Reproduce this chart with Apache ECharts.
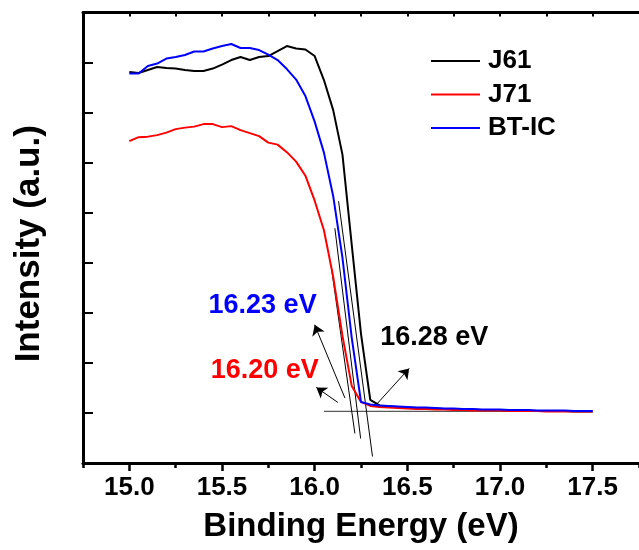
<!DOCTYPE html>
<html>
<head>
<meta charset="utf-8">
<script src="https://cdn.jsdelivr.net/npm/echarts@6/dist/echarts.min.js"></script>
<style>
  html, body { margin: 0; padding: 0; background: #fff; }
  #chart { width: 639px; height: 550px; }
</style>
</head>
<body>
<div id="chart"></div>
<script>
// UPS secondary-electron cutoff spectra (binding energy, eV)
const energies = [
  15.00, 15.05, 15.10, 15.15, 15.20, 15.25, 15.30, 15.35, 15.40, 15.45,
  15.50, 15.55, 15.60, 15.65, 15.70, 15.75, 15.80, 15.85, 15.90, 15.95,
  16.00, 16.05, 16.10, 16.15, 16.20, 16.25, 16.30, 16.35, 16.40, 16.45,
  16.50, 16.55, 16.60, 16.65, 16.70, 16.75, 16.80, 16.85, 16.90, 16.95,
  17.00, 17.05, 17.10, 17.15, 17.20, 17.25, 17.30, 17.35, 17.40, 17.45,
  17.50
];

const J61 = [
  7.81, 7.79, 7.85, 7.91, 7.89, 7.88, 7.85, 7.83, 7.83, 7.88,
  7.96, 8.05, 8.11, 8.05, 8.11, 8.13, 8.23, 8.33, 8.28, 8.26,
  8.13, 7.65, 7.05, 6.16, 4.36, 2.58, 1.26, 1.15, 1.13, 1.12,
  1.11, 1.10, 1.10, 1.09, 1.08, 1.08, 1.07, 1.07, 1.06, 1.06,
  1.06, 1.05, 1.05, 1.05, 1.04, 1.04, 1.04, 1.04, 1.03, 1.03,
  1.03
];

const J71 = [
  6.43, 6.51, 6.52, 6.55, 6.60, 6.67, 6.70, 6.72, 6.77, 6.77,
  6.71, 6.73, 6.65, 6.59, 6.53, 6.40, 6.36, 6.21, 6.02, 5.74,
  5.24, 4.65, 3.72, 2.54, 1.54, 1.22, 1.14, 1.12, 1.11, 1.10,
  1.09, 1.08, 1.08, 1.07, 1.07, 1.06, 1.06, 1.05, 1.05, 1.05,
  1.05, 1.04, 1.04, 1.04, 1.04, 1.03, 1.03, 1.03, 1.03, 1.03,
  1.03
];

const BTIC = [
  7.78, 7.78, 7.93, 7.98, 8.08, 8.11, 8.15, 8.22, 8.22, 8.28,
  8.33, 8.37, 8.29, 8.29, 8.25, 8.16, 8.05, 7.87, 7.66, 7.33,
  6.82, 6.20, 5.33, 4.10, 2.50, 1.22, 1.17, 1.15, 1.14, 1.13,
  1.12, 1.11, 1.11, 1.10, 1.09, 1.09, 1.08, 1.08, 1.07, 1.07,
  1.07, 1.06, 1.06, 1.06, 1.05, 1.05, 1.05, 1.05, 1.04, 1.04,
  1.04
];

const seriesNames = ['J61', 'J71', 'BT-IC'];

// cutoff onsets (eV) and their labels
const onsetLabels = ['16.28 eV', '16.20 eV', '16.23 eV'];

// linear extrapolation of the cutoff edges down to the background level
const baseline = [[16.05, 1.03], [17.5, 1.03]];
const tangentJ61 = [[16.129, 5.23], [16.312, 0.13]];
const tangentJ71 = [[16.088, 3.96], [16.217, 0.59]];
const tangentBTIC = [[16.109, 4.69], [16.248, 0.49]];

// arrows from the intersections to the onset labels: [from, to]
const arrowJ61 = [[16.331, 1.16], [16.51, 1.89]];
const arrowJ71 = [[16.125, 1.21], [16.009, 1.51]];
const arrowBTIC = [[16.163, 1.30], [16.0, 2.76]];

// label anchor points (centre of each text)
const labelPosJ61 = [16.645, 2.50];
const labelPosJ71 = [15.731, 1.84];
const labelPosBTIC = [15.719, 3.14];

// axis ticks
const majorTicks = [15.0, 15.5, 16.0, 16.5, 17.0, 17.5];
const minorTicks = [14.75, 15.25, 15.75, 16.25, 16.75, 17.25, 17.75];
const quarterTicks = [15.0, 15.25, 15.5, 15.75, 16.0, 16.25, 16.5, 16.75, 17.0, 17.25, 17.5];

const FONT = "'Liberation Sans', Arial, Helvetica, sans-serif";
const X_MIN = 14.75, X_MAX = 17.75;

const pair = (ys) => energies.map((e, i) => [e, ys[i]]);

const chart = echarts.init(document.getElementById('chart'), null, { renderer: 'canvas' });

const thinLine = (name, data, color, width, z) => ({
  name: name,
  type: 'line',
  data: data,
  symbol: 'none',
  silent: true,
  z: z,
  lineStyle: { color: color, width: width },
  itemStyle: { color: color }
});

const mainLine = (name, ys, color) => ({
  name: name,
  type: 'line',
  data: pair(ys),
  symbol: 'none',
  z: 5,
  lineStyle: { color: color, width: 2 },
  itemStyle: { color: color }
});

const arrowItem = (a) => [{ coord: a[0] }, { coord: a[1] }];
const labelItem = (pos, text, color) => ({
  coord: pos,
  value: text,
  label: { color: color }
});

const option = {
  animation: false,
  backgroundColor: '#ffffff',
  grid: { left: 83, top: 12.5, right: -5, bottom: 87 },
  legend: {
    data: seriesNames,
    orient: 'vertical',
    left: 431,
    top: 48,
    padding: 0,
    icon: 'rect',
    itemWidth: 49,
    itemHeight: 2,
    itemGap: 7.5,
    selectedMode: false,
    textStyle: {
      fontFamily: FONT, fontWeight: 'bold', fontSize: 26, color: '#000',
      padding: [0, 0, 0, 3]
    }
  },
  xAxis: [
    {
      type: 'value',
      position: 'bottom',
      min: X_MIN, max: X_MAX,
      name: 'Binding Energy (eV)',
      nameLocation: 'middle',
      nameGap: 47,
      nameTextStyle: { fontFamily: FONT, fontWeight: 'bold', fontSize: 33, color: '#000' },
      axisLine: { show: true, onZero: false, lineStyle: { color: '#000', width: 3 } },
      axisTick: { show: true, customValues: majorTicks, length: 8, lineStyle: { color: '#000', width: 2.5 } },
      axisLabel: {
        customValues: majorTicks,
        formatter: (v) => v.toFixed(1),
        margin: 12,
        fontFamily: FONT, fontWeight: 'bold', fontSize: 26, color: '#000'
      },
      splitLine: { show: false }
    },
    {
      type: 'value',
      position: 'bottom',
      min: X_MIN, max: X_MAX,
      axisLine: { show: false, onZero: false },
      axisTick: { show: true, customValues: minorTicks, length: 5, lineStyle: { color: '#000', width: 2.5 } },
      axisLabel: { show: false },
      splitLine: { show: false }
    },
    {
      type: 'value',
      position: 'top',
      min: X_MIN, max: X_MAX,
      axisLine: { show: true, onZero: false, lineStyle: { color: '#000', width: 3 } },
      axisTick: { show: true, inside: true, customValues: quarterTicks, length: 4, lineStyle: { color: '#000', width: 2 } },
      axisLabel: { show: false },
      splitLine: { show: false }
    }
  ],
  yAxis: {
    type: 'value',
    min: 0, max: 9, interval: 1,
    name: 'Intensity (a.u.)',
    nameLocation: 'middle',
    nameGap: 36,
    nameRotate: 90,
    nameTextStyle: {
      fontFamily: FONT, fontWeight: 'bold', fontSize: 35, color: '#000',
      padding: [0, 12, 0, 0]
    },
    axisLine: { show: true, onZero: false, lineStyle: { color: '#000', width: 3 } },
    axisTick: { show: true, inside: true, length: 10, lineStyle: { color: '#000', width: 2 } },
    axisLabel: { show: false },
    splitLine: { show: false }
  },
  series: [
    thinLine('background', baseline, '#5a5a5a', 1.3, 1),
    thinLine('edge J61', tangentJ61, '#000', 1, 2),
    thinLine('edge J71', tangentJ71, '#000', 1, 2),
    thinLine('edge BT-IC', tangentBTIC, '#000', 1, 2),
    mainLine(seriesNames[0], J61, '#000000'),
    mainLine(seriesNames[1], J71, '#ff0000'),
    mainLine(seriesNames[2], BTIC, '#0000ff'),
    {
      name: 'annotations',
      type: 'line',
      data: [],
      silent: true,
      z: 6,
      markLine: {
        silent: true,
        symbol: ['none', 'arrow'],
        symbolSize: 10,
        lineStyle: { color: '#000', width: 1, type: 'solid' },
        label: { show: false },
        emphasis: { disabled: true },
        data: [arrowItem(arrowJ61), arrowItem(arrowJ71), arrowItem(arrowBTIC)]
      },
      markPoint: {
        silent: true,
        symbol: 'rect',
        symbolSize: 1,
        itemStyle: { color: 'rgba(0,0,0,0)' },
        label: {
          show: true,
          position: 'inside',
          formatter: '{c}',
          fontFamily: FONT, fontWeight: 'bold', fontSize: 27
        },
        data: [
          labelItem(labelPosJ61, onsetLabels[0], '#000000'),
          labelItem(labelPosJ71, onsetLabels[1], '#ff0000'),
          labelItem(labelPosBTIC, onsetLabels[2], '#0000ff')
        ]
      }
    }
  ]
};

chart.setOption(option);
</script>
</body>
</html>
